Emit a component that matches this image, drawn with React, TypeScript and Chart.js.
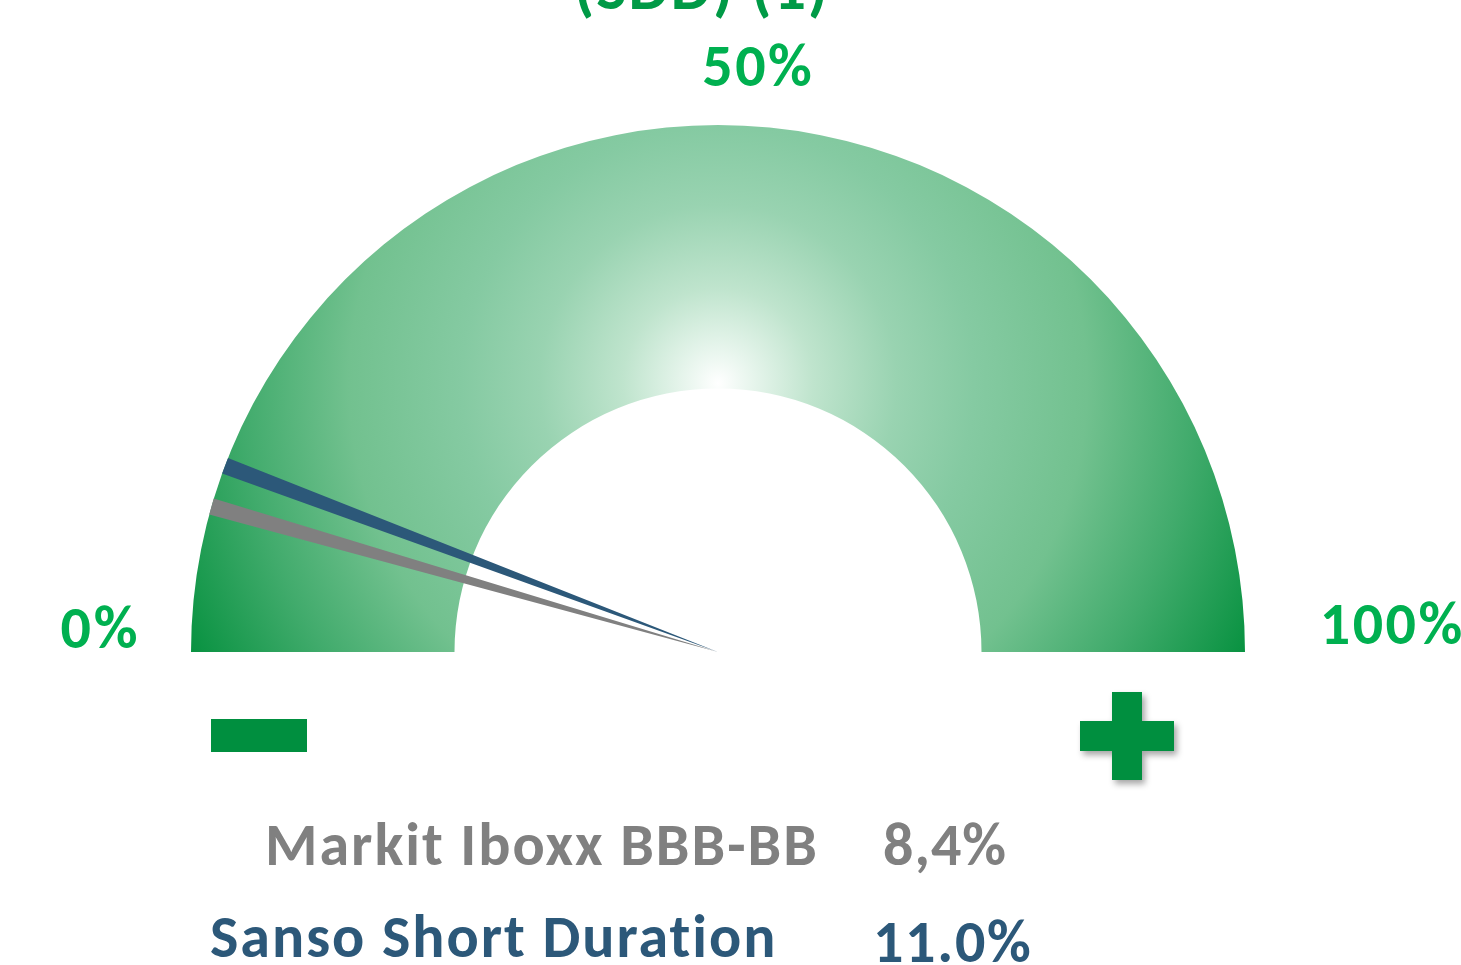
import React, { useEffect, useRef } from "react";
import { Chart, registerables } from "chart.js";

Chart.register(...registerables);

// ---- data ----
const gaugeLabels = ["Rango"];
const gaugeValues = [100];
const seriesNames = ["Markit Iboxx BBB-BB", "Sanso Short Duration"];
const seriesValues = [8.4, 11.0];
const seriesValueTexts = ["8,4%", "11.0%"];
const seriesColors = ["#808080", "#2c5879"];
const scaleTickLabels = ["0%", "50%", "100%"];
const titleText = "(SDD) (1)";
const needleWidth = 1.0;

const W = 1461;
const H = 965;
const FONT = "Carlito, Calibri, Lato, 'Open Sans', sans-serif";
const FS = 60;
const GAUGE_R = 527;
const PAD = { top: 0, left: 0, right: 25, bottom: 188 };

function buildNeedleSegments() {
  const order = seriesValues.map((v, i) => i).sort((a, b) => seriesValues[a] - seriesValues[b]);
  const data: number[] = [];
  const colors: string[] = [];
  let pos = 0;
  order.forEach((i) => {
    const v = seriesValues[i];
    data.push(Math.max(v - pos, 0));
    colors.push("rgba(0,0,0,0)");
    data.push(needleWidth);
    colors.push(seriesColors[i]);
    pos = v + needleWidth;
  });
  data.push(Math.max(100 - pos, 0));
  colors.push("rgba(0,0,0,0)");
  return { data, colors };
}

function gaugeFill(ctx: any) {
  const chart = ctx.chart;
  const ca = chart.chartArea;
  if (!ca) return "#5cb883";
  const cx = (ca.left + ca.right) / 2;
  const cy = (ca.top + ca.bottom) / 2 + GAUGE_R / 2;
  const fx = cx;
  const fy = cy - GAUGE_R * 0.51;
  const g = chart.ctx.createRadialGradient(fx, fy, 0, fx, fy, GAUGE_R * 1.13);
  g.addColorStop(0, "#ffffff");
  g.addColorStop(0.04, "#eef8f2");
  g.addColorStop(0.16, "#bfe4cd");
  g.addColorStop(0.3, "#99d3b1");
  g.addColorStop(0.43, "#85caa2");
  g.addColorStop(0.62, "#72c18f");
  g.addColorStop(0.8, "#41ab6c");
  g.addColorStop(1, "#06913f");
  return g;
}

function Label(props: {
  text: string;
  x: number;
  base: number;
  color: string;
  align?: "left" | "center";
  size?: number;
  spacing?: number;
}) {
  const { text, x, base, color, align = "center", size = FS, spacing = 2 } = props;
  const top = base - size * 0.887;
  const style: React.CSSProperties = {
    position: "absolute",
    top,
    fontFamily: FONT,
    fontWeight: 700,
    fontSize: size,
    lineHeight: `${size}px`,
    letterSpacing: spacing,
    color,
    whiteSpace: "nowrap",
  };
  if (align === "center") {
    style.left = x - 400 + spacing / 2;
    style.width = 800;
    style.textAlign = "center";
  } else {
    style.left = x;
  }
  return <div style={style}>{text}</div>;
}

export default function App() {
  const gaugeRef = useRef<HTMLCanvasElement>(null);
  const needleRef = useRef<HTMLCanvasElement>(null);

  useEffect(() => {
    const common = {
      animation: false as const,
      responsive: false,
      events: [] as any[],
      circumference: 180,
      rotation: -90,
      radius: GAUGE_R,
      layout: { padding: PAD },
      plugins: { legend: { display: false }, tooltip: { enabled: false }, title: { display: false } },
    };
    const gauge = new Chart(gaugeRef.current!, {
      type: "doughnut",
      data: {
        labels: gaugeLabels,
        datasets: [{ data: gaugeValues, backgroundColor: gaugeFill as any, borderWidth: 0 }],
      },
      options: { ...common, cutout: "50%" } as any,
    });
    const seg = buildNeedleSegments();
    const needle = new Chart(needleRef.current!, {
      type: "pie",
      data: {
        labels: seg.data.map((_, i) => String(i)),
        datasets: [{ data: seg.data, backgroundColor: seg.colors, borderWidth: 0 }],
      },
      options: { ...common, cutout: 0 } as any,
    });
    return () => {
      gauge.destroy();
      needle.destroy();
    };
  }, []);

  const canvasStyle: React.CSSProperties = { position: "absolute", left: 0, top: 0, width: W, height: H };

  return (
    <div style={{ position: "absolute", left: 0, top: 0, width: W, height: H, overflow: "hidden", background: "#fff" }}>
      <canvas ref={gaugeRef} width={W} height={H} style={canvasStyle} />
      <canvas ref={needleRef} width={W} height={H} style={canvasStyle} />
      <Label text={titleText} x={701} base={12} color="#009a46" size={64} spacing={2} />
      <Label text={scaleTickLabels[1]} x={757} base={89} color="#00b050" spacing={2.5} />
      <Label text={scaleTickLabels[0]} x={99} base={651} color="#00b050" spacing={3} />
      <Label text={scaleTickLabels[2]} x={1391} base={647} color="#00b050" spacing={2.5} />
      {/* minus sign */}
      <div style={{ position: "absolute", left: 211, top: 719, width: 96, height: 33, background: "#008f3f" }} />
      {/* plus sign */}
      <div style={{ position: "absolute", left: 0, top: 0, width: W, height: H, filter: "drop-shadow(3px 4px 3px rgba(0,0,0,0.35))" }}>
        <div style={{ position: "absolute", left: 1080, top: 721, width: 94, height: 30, background: "#008f3f" }} />
        <div style={{ position: "absolute", left: 1112, top: 692, width: 30, height: 88, background: "#008f3f" }} />
      </div>
      <Label text={seriesNames[0]} x={265} base={868} color={seriesColors[0]} align="left" spacing={2} />
      <Label text={seriesValueTexts[0]} x={883} base={868} color={seriesColors[0]} align="left" spacing={1} />
      <Label text={seriesNames[1]} x={210} base={960} color={seriesColors[1]} align="left" spacing={2} />
      <Label text={seriesValueTexts[1]} x={873} base={965} color={seriesColors[1]} align="left" spacing={1.7} />
    </div>
  );
}
